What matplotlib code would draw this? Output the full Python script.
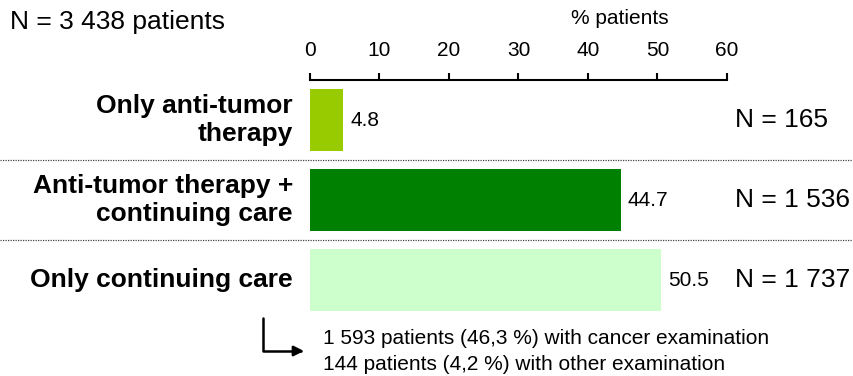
import matplotlib
matplotlib.use("Agg")
import matplotlib.pyplot as plt
from matplotlib.transforms import blended_transform_factory

plt.rcParams['font.family'] = ['Liberation Sans', 'DejaVu Sans']

# Data
categories = ["Only anti-tumor\ntherapy",
              "Anti-tumor therapy +\ncontinuing care",
              "Only continuing care"]
pct_patients = [4.8, 44.7, 50.5]
n_patients = [165, 1536, 1737]
n_total = 3438
x_ticks = [0, 10, 20, 30, 40, 50, 60]
footnote_lines = ["1 593 patients (46,3 %) with cancer examination",
                  "144 patients (4,2 %) with other examination"]

bar_colors = ["#99cc00", "#008000", "#ccffcc"]
W, H = 854, 376
big_fs = 19
small_fs = 15


def fmt_n(n):
    return f"{n:,}".replace(",", " ")


fig = plt.figure(figsize=(W / 100, H / 100), dpi=100)
fig.set_facecolor("white")
ax = fig.add_axes([310 / W, 1 - 320 / H, 417 / W, 240 / H])

ypos = list(range(len(categories)))
ax.barh(ypos, pct_patients, height=0.78, color=bar_colors, edgecolor="none")

ax.set_xlim(0, 60)
ax.set_ylim(len(categories) - 0.5, -0.5)
ax.set_xticks(x_ticks)
ax.set_yticks([])
ax.xaxis.tick_top()
ax.tick_params(axis="x", direction="out", length=5, width=1.5, pad=9.5,
               labelsize=small_fs, colors="black")
for s in ["left", "right", "bottom"]:
    ax.spines[s].set_visible(False)
ax.spines["top"].set_linewidth(1.5)
ax.spines["top"].set_color("black")

# figure-x / data-y transform for text outside the axes
trans = blended_transform_factory(fig.transFigure, ax.transData)

# value labels and category labels
for i, (cat, v) in enumerate(zip(categories, pct_patients)):
    ax.annotate(f"{v:.1f}", xy=(v, i), xytext=(7, 0), textcoords="offset pixels",
                ha="left", va="center", fontsize=small_fs)
    ax.text(293 / W, i, cat, transform=trans, ha="right", va="center",
            multialignment="right", fontsize=big_fs, fontweight="bold",
            linespacing=1.18)

# group counts on the right and dotted separators across the figure
for i, n in enumerate(n_patients):
    ax.text(735 / W, i, f"N = {fmt_n(n)}", transform=trans, ha="left",
            va="center", fontsize=big_fs)
for yb in [0.5, 1.5]:
    ax.plot([0, 1], [yb, yb], transform=trans, clip_on=False, color="#444444",
            linestyle=(0, (1, 1)), linewidth=0.9)

fig.text(10 / W, 1 - 22 / H, f"N = {fmt_n(n_total)} patients", ha="left",
         va="center", fontsize=big_fs)
fig.text(620 / W, 1 - 18 / H, "% patients", ha="center", va="center",
         fontsize=small_fs)

# bent arrow pointing at the breakdown of the last group
ax.annotate("", xy=(304, H - 351), xycoords="figure pixels",
            xytext=(263, H - 318), textcoords="figure pixels",
            arrowprops=dict(arrowstyle="-|>", color="black", lw=1.8,
                            shrinkA=0, shrinkB=0, mutation_scale=15,
                            connectionstyle="angle,angleA=90,angleB=0,rad=0"))
for k, line in enumerate(footnote_lines):
    fig.text(323 / W, 1 - (338 + 26 * k) / H, line, ha="left", va="center",
             fontsize=small_fs)

fig.savefig("out.png", dpi=100, facecolor="white")
